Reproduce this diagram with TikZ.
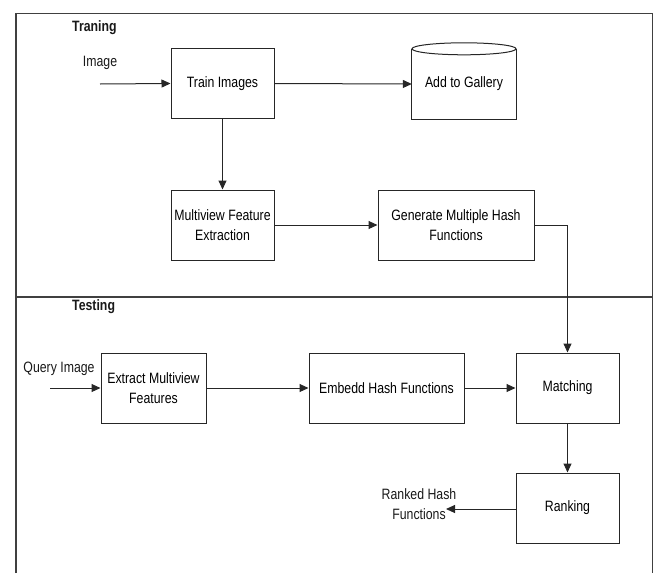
\documentclass[tikz,border=0pt]{standalone}
\usepackage{fontspec}
\setmainfont{Liberation Sans}[FakeStretch=0.82]
\usetikzlibrary{arrows.meta}
\begin{document}
\begin{tikzpicture}[x=1pt,y=-1pt,
  font=\fontsize{15}{20}\selectfont,
  line/.style={draw=black!85, line width=1pt},
  arr/.style={line, -{Triangle[length=9pt,width=8pt]}},
  frame/.style={draw=black!75, line width=1.4pt},
  pbox/.style={draw=black!85, line width=1pt, align=center, inner sep=2pt, minimum height=70pt},
  lbl/.style={align=center, inner sep=0pt, text=black!90},
  sec/.style={anchor=west, inner sep=0pt, text=black!90, font=\fontsize{15}{20}\selectfont\bfseries}]
\useasboundingbox (0,0) rectangle (655,573);
% frame
\draw[frame] (16,573) -- (16,13.5) -- (652.5,13.5) -- (652.5,573);
\draw[frame] (16,297) -- (652.5,297);
\node[sec] (tr) at (72,28) {Traning};
\node[sec] (te) at (72,307) {Testing};
% training
\node[pbox, minimum width=103pt] (train) at (222.5,83.5) {Train Images};
\node[minimum width=104pt, minimum height=70pt, inner sep=0pt, align=center] (gal) at (464,84) {Add to Gallery};
\draw[line] (gal.north west) -- (gal.south west) -- (gal.south east) -- (gal.north east);
\draw[line] (gal.north) ellipse [x radius=52pt, y radius=6pt];
\node[pbox, minimum width=103pt] (mv) at (222.5,225) {Multiview Feature\\Extraction};
\node[pbox, minimum width=156pt] (gen) at (456,225) {Generate Multiple Hash\\Functions};
\node[lbl] (img) at (100,63) {Image};
\coordinate (imgs) at (100,84);
% testing
\node[pbox, minimum width=105pt] (ext) at (153.5,388) {Extract Multiview\\Features};
\node[pbox, minimum width=155pt] (emb) at (386.5,388) {Embedd Hash Functions};
\node[pbox, minimum width=103pt] (match) at (567.5,388) {Matching};
\node[pbox, minimum width=103pt] (rank) at (567.5,508) {Ranking};
\node[lbl] (qi) at (59,369) {Query Image};
\coordinate (qis) at (50,388);
\node[lbl] (rh) at (419,504.5) {Ranked Hash\\Functions};
\coordinate (rht) at (446,509);
% connectors
\draw[arr] (imgs) -- (train.west);
\draw[arr] (train.east) -- (gal.west);
\draw[arr] (train.south) -- (mv.north);
\draw[arr] (mv.east) -- (gen.west);
\draw[arr] (gen.east) -| (match.north);
\draw[arr] (qis) -- (ext.west);
\draw[arr] (ext.east) -- (emb.west);
\draw[arr] (emb.east) -- (match.west);
\draw[arr] (match.south) -- (rank.north);
\draw[arr] (rank.west |- rht) -- (rht);
\end{tikzpicture}
\end{document}
